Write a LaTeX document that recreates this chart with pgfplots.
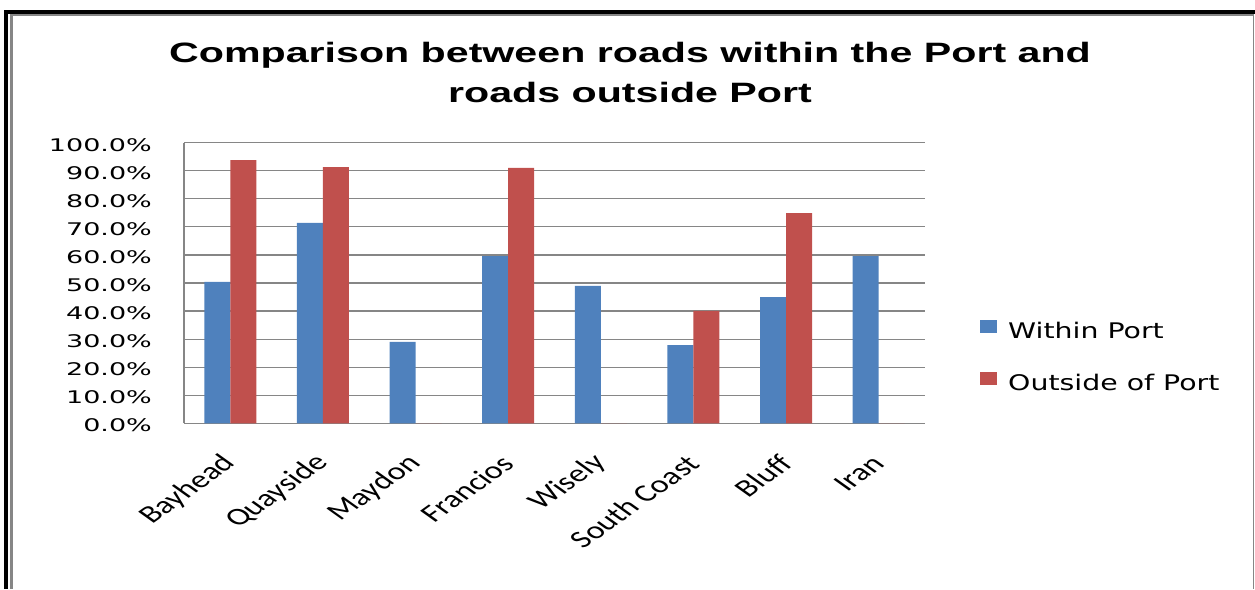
\documentclass[border=0pt]{standalone}
\usepackage{fontspec}
\usepackage{pgfplots}
\pgfplotsset{compat=1.18}
\setmainfont{Liberation Sans}
\newfontfamily\titlefont{Liberation Sans}[FakeStretch=1.47]
\newfontfamily\tickfont{DejaVu Sans}[FakeStretch=1.55]
\newfontfamily\legfont{DejaVu Sans}[FakeStretch=1.32]
\newfontfamily\catfont{Carlito}
\definecolor{wblue}{RGB}{79,129,189}
\definecolor{ored}{RGB}{192,80,77}
\definecolor{gridgray}{RGB}{134,134,134}
\begin{document}
\begin{tikzpicture}
\path[use as bounding box] (0pt,0pt) rectangle (1255pt,589pt);
% frame
\fill[black] (4pt,575pt) rectangle (1255pt,579pt);
\fill[black] (4pt,0pt) rectangle (8pt,579pt);
\fill[gridgray] (10pt,573pt) rectangle (1253pt,575pt);
\fill[gridgray] (10pt,0pt) rectangle (13pt,575pt);
\fill[gridgray] (1252.5pt,0pt) rectangle (1254pt,575pt);
\node[anchor=base, inner sep=0pt, font=\titlefont\bfseries\fontsize{28}{34}\selectfont] at (630pt,526pt) {Comparison between roads within the Port and};
\node[anchor=base, inner sep=0pt, font=\titlefont\bfseries\fontsize{28}{34}\selectfont] at (630pt,486pt) {roads outside Port};
\begin{axis}[
  at={(184pt,165.7pt)}, anchor=south west,
  scale only axis, width=741pt, height=280.6pt,
  xmin=-0.5, xmax=7.5, ymin=0, ymax=100,
  ybar=0pt, bar width=26pt,
  axis lines*=left,
  axis line style={draw=gridgray, line width=1.2pt, -},
  ymajorgrids,
  major grid style={draw=gridgray, line width=1.2pt},
  xtick={0,1,2,3,4,5,6,7},
  xticklabels={Bayhead,Quayside,Maydon,Francios,Wisely,South Coast,Bluff,Iran},
  xticklabel style={font=\catfont\fontsize{24.5}{28}\selectfont, xscale=1.4, rotate=45, anchor=east, inner sep=0pt},
  xticklabel shift=36pt,
  ytick={0,10,20,30,40,50,60,70,80,90,100},
  yticklabels={0.0\%,10.0\%,20.0\%,30.0\%,40.0\%,50.0\%,60.0\%,70.0\%,80.0\%,90.0\%,100.0\%},
  yticklabel style={font=\tickfont\fontsize{17.4}{20}\selectfont, anchor=east, inner sep=0pt, xshift=-32pt, yshift=-2pt},
  major tick length=0pt,
  legend cell align=left,
  legend style={at={(axis description cs:1.0742,0.370)}, anchor=north west, draw=none, fill=none, inner sep=0pt,
    font=\legfont\fontsize{21.5}{26}\selectfont, row sep=29pt,
    nodes={inner sep=0pt, text height=16pt, text depth=4pt}},
  legend image code/.code={\path[#1,draw=none] (0pt,0pt) rectangle (17pt,13pt); \path (28pt,0pt);},
]
\addplot[fill=wblue, draw=none] coordinates {(0,50.4) (1,71.4) (2,29.0) (3,59.6) (4,49.0) (5,27.9) (6,45.0) (7,59.6)};
\addplot[fill=ored, draw=none] coordinates {(0,93.8) (1,91.3) (2,0) (3,91.0) (4,0) (5,40.1) (6,74.9) (7,0)};
\legend{Within Port, Outside of Port}
\end{axis}
\end{tikzpicture}
\end{document}
